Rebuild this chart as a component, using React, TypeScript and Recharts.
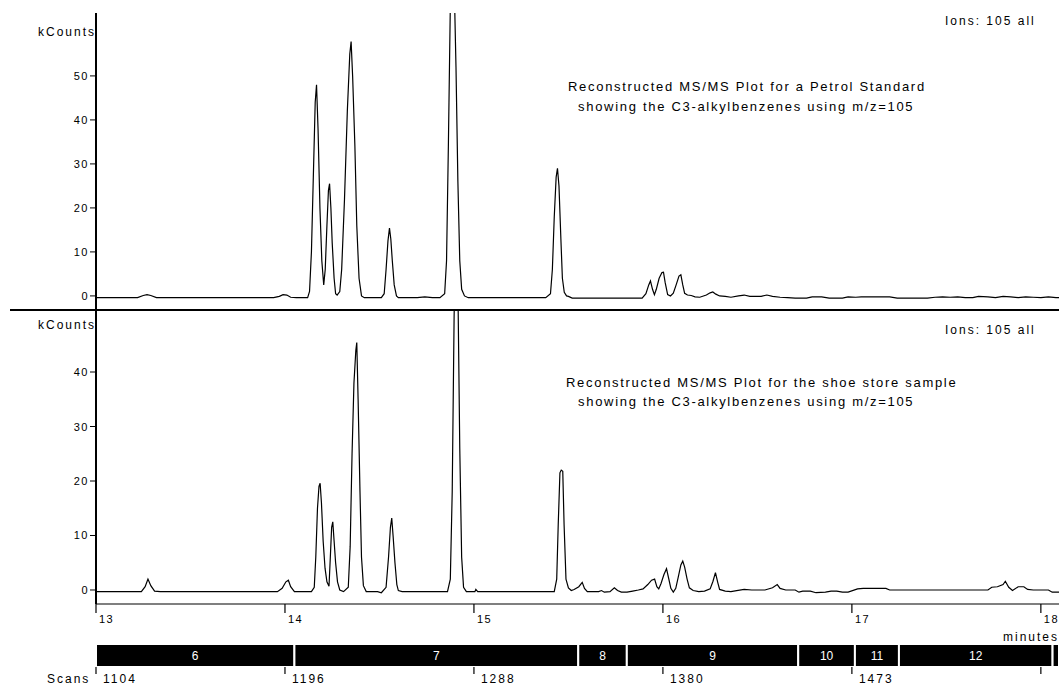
import { LineChart, Line, XAxis, YAxis, BarChart, Bar, LabelList } from "recharts";

const FONT = '"Liberation Sans", Arial, sans-serif';

// retention time axis (minutes) and the matching scan numbers
const minuteTicks = [13, 14, 15, 16, 17, 18];
const scanLabels = ["1104", "1196", "1288", "1380", "1473", ""];
const timeDomain: [number, number] = [13, 18.096];

const topTicks = [0, 10, 20, 30, 40, 50];
const bottomTicks = [0, 10, 20, 30, 40];

// acquisition segments
const segmentLabels = ["6", "7", "8", "9", "10", "11", "12", ""];
const segmentStarts = [13.0, 14.05, 15.552, 15.809, 16.716, 17.016, 17.249, 18.062];

// petrol standard, m/z 105 (minutes, kCounts)
const petrolTrace: [number, number][] = [
  [13.0, -0.4], [13.22, -0.4], [13.25, 0.1], [13.27, 0.3], [13.29, 0.1], [13.32, -0.4],
  [13.94, -0.4], [13.97, -0.1], [13.99, 0.3], [14.01, 0.2], [14.03, -0.3], [14.06, -0.4], [14.12, -0.4],
  [14.13, 1], [14.14, 10], [14.15, 27], [14.16, 44], [14.167, 48], [14.175, 38], [14.185, 20], [14.195, 8], [14.205, 2.5],
  [14.213, 6], [14.222, 16], [14.23, 24], [14.236, 25.5], [14.243, 20], [14.25, 12], [14.26, 4], [14.268, 0.5], [14.276, 0.2],
  [14.29, 1], [14.3, 6], [14.315, 22], [14.33, 42], [14.343, 55], [14.35, 57.8], [14.358, 50], [14.37, 34], [14.38, 16],
  [14.392, 4], [14.405, 0], [14.42, -0.4],
  [14.51, -0.4], [14.525, 0.5], [14.535, 6], [14.545, 12.5], [14.553, 15.4], [14.56, 13], [14.568, 8], [14.578, 2.5],
  [14.59, 0], [14.6, -0.4],
  [14.7, -0.4], [14.74, -0.2], [14.78, -0.4], [14.82, -0.4],
  [14.845, 0.5], [14.855, 8], [14.865, 35], [14.875, 66], [14.885, 76], [14.895, 72], [14.905, 52], [14.915, 26],
  [14.925, 8], [14.935, 1.5], [14.95, 0], [14.97, -0.4],
  [15.38, -0.4], [15.405, 0.5], [15.415, 6], [15.425, 18], [15.435, 27], [15.442, 29], [15.45, 25], [15.46, 13],
  [15.468, 4], [15.478, 0.8], [15.49, 0], [15.5, -0.1], [15.52, -0.5],
  [15.89, -0.5], [15.91, 0.5], [15.925, 2.5], [15.934, 3.4], [15.945, 1.5], [15.955, 0.3], [15.965, 1.5], [15.98, 4],
  [15.995, 5.3], [16.003, 5.4], [16.012, 3], [16.025, 0.3], [16.04, 0], [16.055, 0.6], [16.07, 2.5], [16.085, 4.5],
  [16.095, 4.8], [16.105, 2.5], [16.115, 0.6], [16.13, 0.2], [16.15, 0.1], [16.17, -0.2], [16.195, -0.3],
  [16.23, 0.2], [16.25, 0.7], [16.264, 0.9], [16.28, 0.4], [16.3, 0], [16.33, -0.1], [16.36, -0.3],
  [16.4, 0], [16.43, 0.2], [16.46, -0.1], [16.52, -0.1], [16.55, 0.2], [16.58, -0.1], [16.62, -0.3],
  [16.66, -0.4], [16.7, -0.5], [16.76, -0.5], [16.79, -0.2], [16.84, -0.2], [16.88, -0.5], [16.95, -0.5],
  [16.98, -0.2], [17.02, -0.3], [17.05, -0.2], [17.2, -0.2], [17.24, -0.5], [17.4, -0.5], [17.44, -0.3],
  [17.48, -0.2], [17.52, -0.3], [17.56, -0.2], [17.6, -0.4], [17.64, -0.4], [17.67, -0.1], [17.72, -0.2],
  [17.76, -0.4], [17.8, -0.1], [17.84, -0.2], [17.88, -0.4], [17.92, -0.2], [17.96, -0.3], [18.0, -0.4],
  [18.04, -0.2], [18.08, -0.4], [18.1, -0.4],
];

// shoe store sample, m/z 105 (minutes, kCounts)
const shoeTrace: [number, number][] = [
  [13.0, -0.3], [13.24, -0.3], [13.26, 0.6], [13.275, 2.0], [13.29, 0.8], [13.31, -0.2], [13.34, -0.3],
  [13.96, -0.3], [13.985, 0.3], [14.005, 1.5], [14.018, 1.8], [14.03, 0.6], [14.05, -0.3], [14.14, -0.3],
  [14.155, 0.5], [14.163, 6], [14.172, 15], [14.18, 19], [14.186, 19.6], [14.193, 16], [14.202, 9], [14.212, 4],
  [14.222, 1.5], [14.233, 0.7],
  [14.24, 6], [14.247, 11.5], [14.253, 12.5], [14.26, 9], [14.268, 5], [14.278, 1.5], [14.29, 0], [14.31, -0.3],
  [14.335, 0.5], [14.345, 8], [14.355, 25], [14.365, 38], [14.375, 44], [14.38, 45.4], [14.387, 35], [14.397, 18],
  [14.405, 6], [14.415, 0.8], [14.43, -0.3],
  [14.49, -0.3], [14.51, -0.5], [14.535, 0.5], [14.548, 6], [14.558, 11.5], [14.565, 13.2], [14.572, 10], [14.582, 5],
  [14.592, 1], [14.6, -0.1], [14.62, -0.3],
  [14.86, -0.3], [14.875, 2], [14.885, 18], [14.895, 50], [14.905, 72], [14.915, 56], [14.925, 26], [14.935, 6],
  [14.945, 0.5], [14.96, -0.3], [15.005, -0.3], [15.01, 0.1], [15.02, -0.3],
  [15.425, -0.3], [15.438, 2], [15.446, 12], [15.455, 21.5], [15.462, 22], [15.47, 21.8], [15.477, 12], [15.487, 2],
  [15.5, 0.4], [15.515, -0.1], [15.53, 0.1], [15.555, 0.6], [15.573, 1.4], [15.585, 0.3], [15.6, -0.3],
  [15.66, -0.3], [15.675, -0.1], [15.69, -0.4], [15.72, -0.3], [15.743, 0.4], [15.76, -0.1], [15.78, -0.4],
  [15.81, -0.4], [15.84, -0.2], [15.87, 0], [15.895, 0.2], [15.92, 1.0], [15.94, 1.8], [15.956, 2.0], [15.968, 0.6],
  [15.978, 0.2], [15.99, 1.2], [16.005, 2.8], [16.019, 3.9], [16.03, 2.2], [16.042, 0.3], [16.055, -0.4],
  [16.068, 0.3], [16.082, 2.5], [16.095, 4.6], [16.105, 5.3], [16.115, 4.2], [16.128, 2], [16.14, 0.4],
  [16.16, -0.1], [16.19, -0.3], [16.22, -0.2], [16.25, 0.2], [16.265, 1.6], [16.278, 3.2], [16.29, 1.4],
  [16.3, 0.1], [16.33, -0.2], [16.36, -0.3], [16.39, -0.1], [16.43, 0.1], [16.47, 0], [16.54, 0], [16.58, 0.4],
  [16.605, 1.0], [16.62, 0.3], [16.65, 0], [16.7, 0], [16.72, -0.4], [16.74, -0.2], [16.78, -0.2], [16.81, -0.5],
  [16.86, -0.4], [16.89, -0.2], [16.92, -0.2], [16.95, -0.4], [16.98, -0.4], [17.03, 0.2], [17.06, 0.3],
  [17.18, 0.3], [17.2, 0], [17.4, 0], [17.6, 0], [17.72, 0], [17.74, 0.5], [17.77, 0.6], [17.8, 1.0],
  [17.812, 1.6], [17.83, 0.5], [17.85, -0.1], [17.88, 0.6], [17.91, 0.6], [17.93, 0.1], [17.96, 0],
  [18.04, 0], [18.06, -0.4], [18.1, -0.4],
];

const petrolData = petrolTrace.map(([t, v]) => ({ t, v }));
const shoeData = shoeTrace.map(([t, v]) => ({ t, v }));

// one row: an invisible lead-in up to the first segment, then each segment's duration stacked
const segmentRow: Record<string, number | string> = { row: "segments", lead: segmentStarts[0] };
segmentLabels.forEach((label, i) => {
  const end = i + 1 < segmentStarts.length ? segmentStarts[i + 1] : timeDomain[1] + 0.05;
  segmentRow[`s${i}`] = end - segmentStarts[i];
  segmentRow[`l${i}`] = label;
});
const segmentData = [segmentRow];

const textStyle = { fontFamily: FONT, fill: "#000" };

const YTick = ({ x, y, payload }: any) => (
  <text x={x} y={y} textAnchor="end" dominantBaseline="central" fontSize={11}
    style={{ ...textStyle, letterSpacing: 1.5 }}>
    {payload.value}
  </text>
);

const MinuteTick = ({ x, y, payload }: any) => (
  <g>
    <line x1={x} y1={y} x2={x} y2={y + 9} stroke="#000" strokeWidth={1.2} />
    <text x={x + 3} y={y + 14.5} dominantBaseline="central" fontSize={11}
      style={{ ...textStyle, letterSpacing: 1.5 }}>
      {payload.value}
    </text>
  </g>
);

const ScanTick = ({ x, y, payload }: any) => (
  <g>
    <line x1={x} y1={y} x2={x} y2={y + 7} stroke="#000" strokeWidth={1.2} />
    <text x={x + 7} y={y + 12} dominantBaseline="central" fontSize={12}
      style={{ ...textStyle, letterSpacing: 2 }}>
      {scanLabels[minuteTicks.indexOf(payload.value)]}
    </text>
  </g>
);

function Label({ x, y, children, size = 12, spacing = 2, anchor = "start" }: any) {
  return (
    <text x={x} y={y} fontSize={size} textAnchor={anchor} dominantBaseline="central"
      style={{ ...textStyle, letterSpacing: spacing }}>
      {children}
    </text>
  );
}

export default function App() {
  return (
    <div style={{ position: "absolute", left: 0, top: 0, width: 1059, height: 688, overflow: "hidden", background: "#fff" }}>
      {/* petrol standard */}
      <div style={{ position: "absolute", left: 0, top: 0 }}>
        <LineChart width={1059} height={310} data={petrolData} margin={{ top: 13, right: 0, bottom: 0, left: 0 }}>
          <XAxis dataKey="t" type="number" domain={timeDomain} allowDataOverflow hide />
          <YAxis
            width={96}
            type="number"
            domain={[-3.2, 64.3]}
            allowDataOverflow
            ticks={topTicks}
            interval={0}
            tickSize={6}
            tickMargin={1}
            tick={<YTick />}
            axisLine={{ stroke: "#000", strokeWidth: 2 }}
            tickLine={{ stroke: "#000" }}
          />
          <Line type="linear" dataKey="v" stroke="#000" strokeWidth={1.2} dot={false} isAnimationActive={false} />
        </LineChart>
      </div>

      {/* shoe store sample */}
      <div style={{ position: "absolute", left: 0, top: 310 }}>
        <LineChart width={1059} height={330} data={shoeData} margin={{ top: 0, right: 0, bottom: 0, left: 0 }}>
          <XAxis
            dataKey="t"
            type="number"
            domain={timeDomain}
            allowDataOverflow
            ticks={minuteTicks}
            interval={0}
            height={36}
            tickSize={0}
            tickMargin={0}
            tick={<MinuteTick />}
            axisLine={{ stroke: "#000", strokeWidth: 1.2 }}
            tickLine={false}
          />
          <YAxis
            width={96}
            type="number"
            domain={[-2.57, 51.38]}
            allowDataOverflow
            ticks={bottomTicks}
            interval={0}
            tickSize={6}
            tickMargin={1}
            tick={<YTick />}
            axisLine={{ stroke: "#000", strokeWidth: 2 }}
            tickLine={{ stroke: "#000" }}
          />
          <Line type="linear" dataKey="v" stroke="#000" strokeWidth={1.2} dot={false} isAnimationActive={false} />
        </LineChart>
      </div>

      {/* segment bar and scan numbers */}
      <div style={{ position: "absolute", left: 0, top: 640 }}>
        <BarChart
          width={1059}
          height={49}
          data={segmentData}
          layout="vertical"
          barCategoryGap={0}
          margin={{ top: 4, right: 0, bottom: 0, left: 96 }}
        >
          <XAxis
            type="number"
            domain={timeDomain}
            allowDataOverflow
            ticks={minuteTicks}
            interval={0}
            height={22}
            tickSize={0}
            tickMargin={0}
            tick={<ScanTick />}
            axisLine={false}
            tickLine={false}
          />
          <YAxis type="category" dataKey="row" hide />
          <Bar dataKey="lead" stackId="seg" fill="none" isAnimationActive={false} />
          {segmentLabels.map((label, i) => (
            <Bar key={i} dataKey={`s${i}`} stackId="seg" fill="#000" stroke="#fff" strokeWidth={2} isAnimationActive={false}>
              <LabelList dataKey={`l${i}`} position="center" fill="#fff" fontSize={12} fontFamily={FONT} />
            </Bar>
          ))}
        </BarChart>
      </div>

      {/* annotations */}
      <svg width={1059} height={688} style={{ position: "absolute", left: 0, top: 0, pointerEvents: "none" }}>
        <line x1={10} y1={310} x2={1059} y2={310} stroke="#000" strokeWidth={2} />
        <Label x={96} y={32} anchor="end">kCounts</Label>
        <Label x={96} y={325} anchor="end">kCounts</Label>
        <Label x={945} y={20.5}>Ions: 105 all</Label>
        <Label x={945} y={330}>Ions: 105 all</Label>
        <Label x={568} y={86} size={13} spacing={1.7}>Reconstructed MS/MS Plot for a Petrol Standard</Label>
        <Label x={578} y={106} size={13} spacing={1.7}>showing the C3-alkylbenzenes using m/z=105</Label>
        <Label x={566} y={382} size={13} spacing={1.7}>Reconstructed MS/MS Plot for the shoe store sample</Label>
        <Label x={578} y={401} size={13} spacing={1.7}>showing the C3-alkylbenzenes using m/z=105</Label>
        <Label x={1003} y={636.5}>minutes</Label>
        <Label x={47} y={679}>Scans</Label>
      </svg>
    </div>
  );
}
